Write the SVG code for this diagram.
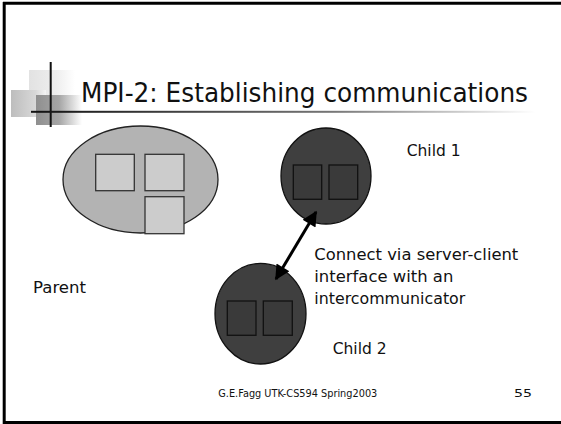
<svg xmlns="http://www.w3.org/2000/svg" width="561" height="424" viewBox="0 0 561 424">
<defs>
<linearGradient id="ul" x1="0" x2="1" y1="0" y2="0">
<stop offset="0" stop-color="#111"/><stop offset="0.6" stop-color="#777"/><stop offset="1" stop-color="#fff"/>
</linearGradient>
<linearGradient id="sqA" x1="0" x2="1" y1="0" y2="0">
<stop offset="0" stop-color="#e2e2e2"/><stop offset="0.6" stop-color="#eeeeee"/><stop offset="1" stop-color="#fff"/>
</linearGradient>
<linearGradient id="sqB" x1="0" x2="1" y1="0" y2="0">
<stop offset="0" stop-color="#bdbdbd"/><stop offset="0.7" stop-color="#d8d8d8"/><stop offset="1" stop-color="#f4f4f4"/>
</linearGradient>
<linearGradient id="sqC" x1="0" x2="1" y1="0" y2="0">
<stop offset="0" stop-color="#8f8f8f"/><stop offset="0.5" stop-color="#a5a5a5"/><stop offset="1" stop-color="#fff"/>
</linearGradient>
<marker id="ah" viewBox="0 0 10 10" refX="9" refY="5" markerWidth="5.5" markerHeight="5" orient="auto-start-reverse" markerUnits="strokeWidth">
<path d="M0,0 L10,5 L0,10 z" fill="#000"/>
</marker>
<style>
text{font-family:"DejaVu Sans","Verdana",sans-serif;fill:#111}
.lbl{font-size:15px}
.sq{fill:#cccccc;stroke:#333;stroke-width:1.3}
.dsq{fill:#3a3a3a;stroke:#111;stroke-width:1.3}
</style>
</defs>
<g id="frame">
<line x1="4.2" y1="2" x2="4.2" y2="424" stroke="#000" stroke-width="3"/>
<line x1="3" y1="3.2" x2="561" y2="3.2" stroke="#000" stroke-width="3"/>
<line x1="3" y1="422.5" x2="561" y2="422.5" stroke="#000" stroke-width="3"/>
</g>
<g id="title-deco">
<rect x="29" y="70" width="46" height="31" fill="url(#sqA)"/>
<rect x="11" y="90" width="35" height="27" fill="url(#sqB)"/>
<rect x="36" y="95" width="46" height="30" fill="url(#sqC)"/>
<line x1="50.7" y1="62" x2="50.7" y2="127" stroke="#111" stroke-width="2"/>
<rect x="31" y="110.8" width="504" height="2" fill="url(#ul)"/>
</g>
<g id="title">
<text x="81" y="102" font-size="26" textLength="447" lengthAdjust="spacingAndGlyphs">MPI-2: Establishing communications</text>
</g>
<g id="parent">
<ellipse cx="140.5" cy="179.5" rx="77.5" ry="53.5" fill="#b3b3b3" stroke="#222" stroke-width="1.3"/>
<rect class="sq" x="95.7" y="154.3" width="38.6" height="36.4"/>
<rect class="sq" x="145" y="154.3" width="39" height="36.4"/>
<rect class="sq" x="145" y="196.7" width="39" height="37"/>
<text class="lbl" x="33" y="293" textLength="53" lengthAdjust="spacingAndGlyphs">Parent</text>
</g>
<g id="child1">
<ellipse cx="326" cy="176" rx="45" ry="48" fill="#3f3f3f" stroke="#111" stroke-width="1.3"/>
<rect class="dsq" x="293.3" y="165" width="28.4" height="34.3"/>
<rect class="dsq" x="329" y="165" width="28.7" height="34.3"/>
<text class="lbl" x="406.7" y="156" textLength="54" lengthAdjust="spacingAndGlyphs">Child 1</text>
</g>
<g id="child2">
<ellipse cx="260.5" cy="313.7" rx="45.5" ry="50.3" fill="#3f3f3f" stroke="#111" stroke-width="1.3"/>
<rect class="dsq" x="227.3" y="301" width="28.7" height="34.3"/>
<rect class="dsq" x="263.3" y="301" width="29" height="34.3"/>
<text class="lbl" x="332.7" y="354" textLength="54" lengthAdjust="spacingAndGlyphs">Child 2</text>
</g>
<g id="connectors">
<line x1="316" y1="212" x2="276" y2="279" stroke="#000" stroke-width="3" marker-start="url(#ah)" marker-end="url(#ah)"/>
</g>
<g id="connect-label">
<text class="lbl" x="314.3" y="260" textLength="204" lengthAdjust="spacingAndGlyphs">Connect via server-client</text>
<text class="lbl" x="314.3" y="282" textLength="139" lengthAdjust="spacingAndGlyphs">interface with an</text>
<text class="lbl" x="314.3" y="304" textLength="151" lengthAdjust="spacingAndGlyphs">intercommunicator</text>
</g>
<g id="footer">
<text x="218.3" y="397" font-size="10" textLength="159" lengthAdjust="spacingAndGlyphs">G.E.Fagg UTK-CS594 Spring2003</text>
<text x="514" y="397" font-size="10" textLength="18" lengthAdjust="spacingAndGlyphs">55</text>
</g>
</svg>
